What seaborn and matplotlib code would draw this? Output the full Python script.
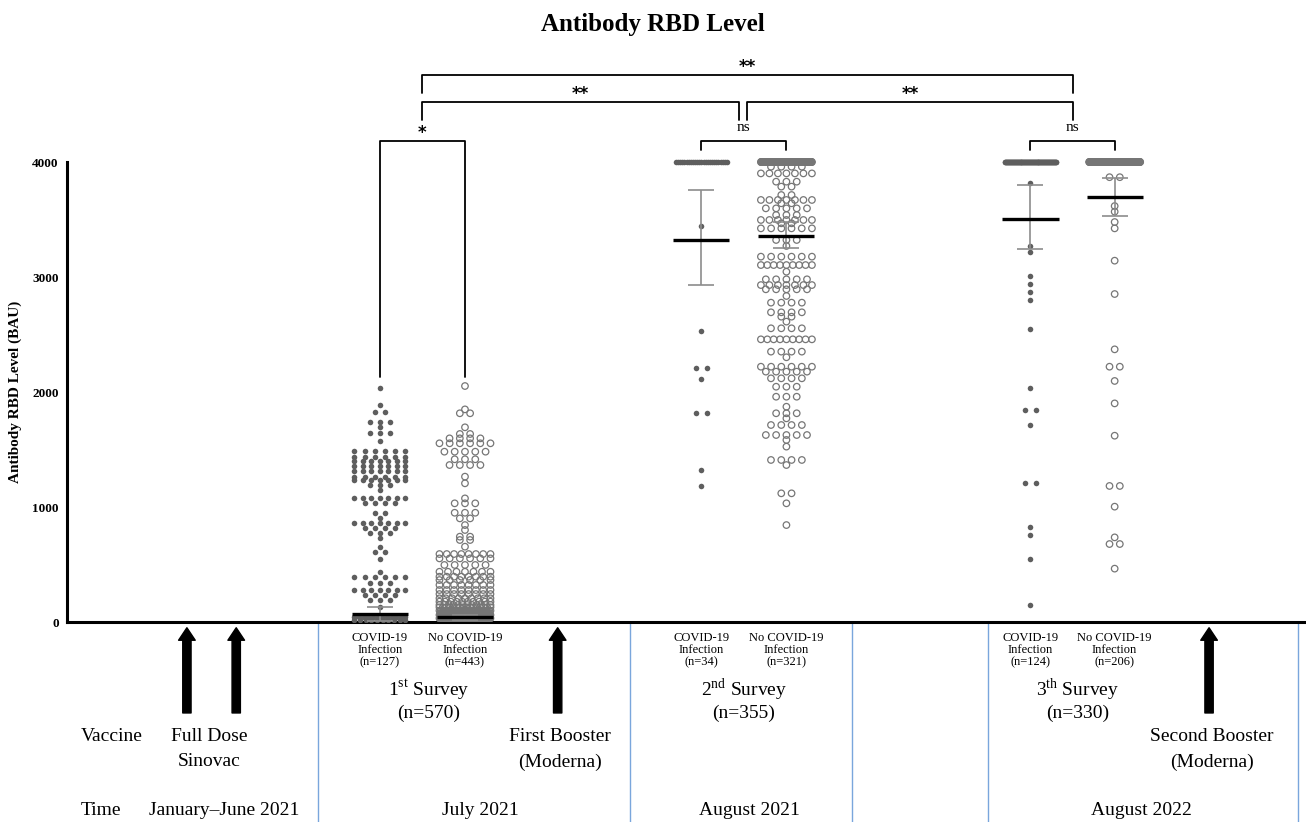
"""Antibody RBD level across three surveys (dot plot with mean and error bars)."""
import numpy as np
import pandas as pd
import matplotlib
matplotlib.use("Agg")
import matplotlib.pyplot as plt
from matplotlib.ticker import FixedLocator
import seaborn as sns

# ---- groups ----
GROUP_POS = [0.0, 1.0, 3.78, 4.78, 7.65, 8.64]
GROUP_LABELS = [
    "COVID-19\nInfection\n(n=127)", "No COVID-19\nInfection\n(n=443)",
    "COVID-19\nInfection\n(n=34)", "No COVID-19\nInfection\n(n=321)",
    "COVID-19\nInfection\n(n=124)", "No COVID-19\nInfection\n(n=206)",
]
INFECTED = [True, False, True, False, True, False]

# ---- dot rows: level (BAU) and number of dots at that level ----
S1_INF_LEVELS = [2032, 1887, 1829, 1742, 1699, 1641, 1577, 1490, 1438, 1400, 1357, 1316, 1264,
                 1235, 1191, 1148, 1075, 1032, 945, 901, 858, 814, 771, 727, 655, 612, 548,
                 432, 388, 336, 278, 235, 191, 133, 40, 15]
S1_INF_COUNTS = [1, 1, 2, 3, 1, 3, 1, 6, 6, 7, 7, 7, 6,
                 7, 3, 1, 7, 4, 2, 1, 7, 4, 3, 1, 1, 2, 1,
                 1, 6, 3, 7, 4, 3, 1, 12, 10]

S1_NON_LEVELS = [2052, 1849, 1815, 1693, 1635, 1597, 1554, 1481, 1415, 1365, 1264, 1206, 1075,
                 1032, 950, 901, 843, 800, 742, 713, 655, 591, 553, 496, 437, 394, 365, 322,
                 278, 243, 206, 177, 148, 128, 99, 61, 32]
S1_NON_COUNTS = [1, 1, 2, 1, 2, 4, 6, 5, 3, 4, 1, 1, 1,
                 3, 3, 2, 1, 1, 2, 2, 1, 8, 6, 5, 7, 8, 6, 8,
                 8, 8, 9, 10, 12, 16, 40, 80, 120]

S2_INF_LEVELS = [4000, 3443, 2533, 2210, 2110, 1815, 1322, 1183]
S2_INF_COUNTS = [25, 1, 1, 2, 1, 2, 1, 1]

S2_NON_LEVELS = [4000, 3959, 3901, 3829, 3786, 3713, 3670, 3641, 3597, 3539, 3496, 3467, 3423,
                 3322, 3270, 3177, 3104, 3046, 2980, 2930, 2893, 2835, 2777, 2693, 2655, 2612,
                 2554, 2458, 2351, 2302, 2220, 2177, 2119, 2046, 1959, 1872, 1815, 1771, 1713,
                 1626, 1583, 1525, 1409, 1365, 1119, 1032, 843]
S2_NON_COUNTS = [158, 4, 7, 3, 2, 2, 7, 2, 5, 3, 7, 2, 6,
                 3, 1, 6, 9, 1, 5, 7, 5, 1, 4, 4, 2, 1,
                 4, 9, 4, 1, 6, 5, 4, 3, 3, 1, 3, 1, 4,
                 5, 1, 1, 4, 1, 2, 1, 1]

S3_INF_LEVELS = [4000, 3814, 3270, 3214, 3012, 2939, 2867, 2797, 2551, 2038, 1842, 1710, 1206,
                 829, 754, 545, 148]
S3_INF_COUNTS = [106, 1, 1, 1, 1, 1, 1, 1, 1, 1, 2, 1, 2,
                 1, 1, 1, 1]

S3_NON_LEVELS = [4000, 3868, 3617, 3568, 3478, 3423, 3142, 2852, 2371, 2220, 2096, 1901, 1620,
                 1183, 1003, 736, 678, 464]
S3_NON_COUNTS = [185, 2, 1, 1, 1, 1, 1, 1, 1, 2, 1, 1, 1,
                 2, 1, 1, 2, 1]

ALL_LEVELS = [S1_INF_LEVELS, S1_NON_LEVELS, S2_INF_LEVELS, S2_NON_LEVELS, S3_INF_LEVELS, S3_NON_LEVELS]
ALL_COUNTS = [S1_INF_COUNTS, S1_NON_COUNTS, S2_INF_COUNTS, S2_NON_COUNTS, S3_INF_COUNTS, S3_NON_COUNTS]

# mean and error bar limits per group
MEANS = [67, 40, 3322, 3357, 3507, 3693]
ERR_LOW = [5, 20, 2933, 3249, 3243, 3533]
ERR_HIGH = [133, 60, 3757, 3481, 3797, 3858]

# significance brackets: x1, x2, top, leg bottom, label
BRACKETS = [
    (0.0, 1.0, 4183, 2130, "*"),
    (3.78, 4.78, 4183, 4104, "ns"),
    (7.65, 8.64, 4183, 4104, "ns"),
    (0.5, 4.22, 4522, 4365, "**"),
    (4.32, 8.145, 4522, 4365, "**"),
    (0.5, 8.145, 4757, 4600, "**"),
]

SURVEY_X = [0.57, 4.28, 8.2]
SURVEY_TITLES = [r"1$^{\mathrm{st}}$ Survey", r"2$^{\mathrm{nd}}$ Survey", r"3$^{\mathrm{th}}$ Survey"]
SURVEY_N = ["(n=570)", "(n=355)", "(n=330)"]
PERIOD_X = [-1.835, 1.18, 4.35, 8.95]
PERIODS = ["January\u2013June 2021", "July 2021", "August 2021", "August 2022"]
DIVIDERS = [-0.73, 2.94, 5.55, 7.15, 10.8]
ARROW_X = [-2.27, -1.69, 2.09, 9.75]
DOSE_X = [-2.01, 2.12, 9.78]
DOSE_LINE1 = ["Full Dose", "First Booster", "Second Booster"]
DOSE_LINE2 = ["Sinovac", "(Moderna)", "(Moderna)"]

FILL_COLOR = "#5e5e5e"
RING_COLOR = "#767676"
ERR_COLOR = "#8c8c8c"


def row_offsets(n, step=0.121, max_w=0.6):
    if n == 1:
        return np.zeros(1)
    span = min((n - 1) * step, max_w)
    return np.linspace(-span / 2, span / 2, n)


def build_points():
    rows = []
    for pos, inf, levels, counts in zip(GROUP_POS, INFECTED, ALL_LEVELS, ALL_COUNTS):
        for lv, c in zip(levels, counts):
            for off in row_offsets(c):
                rows.append((pos + off, lv, inf))
    return pd.DataFrame(rows, columns=["x", "bau", "infected"])


sns.set_style("white")
plt.rcParams["font.family"] = ["Liberation Serif", "DejaVu Sans"]
plt.rcParams["mathtext.fontset"] = "custom"
plt.rcParams["mathtext.rm"] = "Liberation Serif"
for key in ["text.color", "axes.labelcolor", "xtick.color", "ytick.color", "axes.edgecolor"]:
    plt.rcParams[key] = "black"

fig = plt.figure(figsize=(13.06, 8.22), dpi=100)
ax = fig.add_axes([67 / 1306, 200 / 822, 1239 / 1306, 582 / 822])

df = build_points()
sns.scatterplot(data=df[df["infected"]], x="x", y="bau", color=FILL_COLOR, s=16,
                linewidth=0, ax=ax, zorder=3)
sns.scatterplot(data=df[~df["infected"]], x="x", y="bau", facecolor="none",
                edgecolor=RING_COLOR, s=22, linewidth=0.9, ax=ax, zorder=3)

# error bars and means
means = np.array(MEANS)
yerr = [means - np.array(ERR_LOW), np.array(ERR_HIGH) - means]
ax.errorbar(GROUP_POS, means, yerr=yerr, fmt="none", ecolor=ERR_COLOR, elinewidth=1.2,
            capsize=9.5, capthick=1.2, zorder=4)
ax.hlines(means, np.array(GROUP_POS) - 0.33, np.array(GROUP_POS) + 0.33, colors="black",
          lw=2.4, zorder=5)

# brackets
for x1, x2, top, leg, label in BRACKETS:
    ax.plot([x1, x1, x2, x2], [leg, top, top, leg], color="black", lw=1.3, clip_on=False)
    xm = (x1 + x2) / 2
    if label == "ns":
        ax.text(xm, top + 113, label, ha="center", va="center", fontsize=11)
    else:
        ax.text(xm, top + 30, label, ha="center", va="baseline", fontsize=12,
                fontweight="bold", family="DejaVu Sans")

# axes styling
ax.set_xlim(-3.68, 10.89)
ax.set_ylim(0, 5061)
for side in ["top", "right"]:
    ax.spines[side].set_visible(False)
ax.spines["left"].set_linewidth(2.2)
ax.spines["bottom"].set_linewidth(2.2)
ax.spines["left"].set_bounds(0, 4000)
ax.set_yticks([0, 1000, 2000, 3000, 4000])
ax.yaxis.set_minor_locator(FixedLocator(np.arange(100, 4000, 100)))
ax.tick_params(axis="y", which="major", length=5, width=1.8, pad=1, labelsize=9.5)
ax.tick_params(axis="y", which="minor", length=3, width=1.4)
for lab in ax.get_yticklabels():
    lab.set_fontweight("bold")
ax.set_xticks(GROUP_POS)
ax.set_xticklabels(GROUP_LABELS, fontsize=9, linespacing=1.05)
ax.tick_params(axis="x", length=5, width=1.8, pad=2)
ax.set_xlabel("")
ax.set_ylabel("Antibody RBD Level (BAU)", fontsize=11, fontweight="bold")
ax.yaxis.set_label_coords(-0.036, 2000 / 5061)

# timeline below the axis
ax.vlines(DIVIDERS, -1739, 0, colors="#7aa6dc", lw=1, clip_on=False)
for x in ARROW_X:
    ax.annotate("", xy=(x, -50), xytext=(x, -791), annotation_clip=False,
                arrowprops=dict(arrowstyle="simple,head_width=1.2,head_length=0.9,tail_width=0.6",
                                color="black", shrinkA=0, shrinkB=0, mutation_scale=10))
for x, t, n in zip(SURVEY_X, SURVEY_TITLES, SURVEY_N):
    ax.text(x, -591, t, ha="center", va="center", fontsize=14, clip_on=False)
    ax.text(x, -791, n, ha="center", va="center", fontsize=14, clip_on=False)
ax.text(-3.15, -1000, "Vaccine", ha="center", va="center", fontsize=14)
for x, l1, l2 in zip(DOSE_X, DOSE_LINE1, DOSE_LINE2):
    ax.text(x, -1000, l1, ha="center", va="center", fontsize=14)
    ax.text(x, -1217, l2, ha="center", va="center", fontsize=14)
ax.text(-3.28, -1635, "Time", ha="center", va="center", fontsize=14)
for x, p in zip(PERIOD_X, PERIODS):
    ax.text(x, -1635, p, ha="center", va="center", fontsize=14)

fig.text(0.5, 1 - 25 / 822, "Antibody RBD Level", ha="center", va="center",
         fontsize=18, fontweight="bold")

fig.savefig("out.png", dpi=100)
plt.close(fig)
